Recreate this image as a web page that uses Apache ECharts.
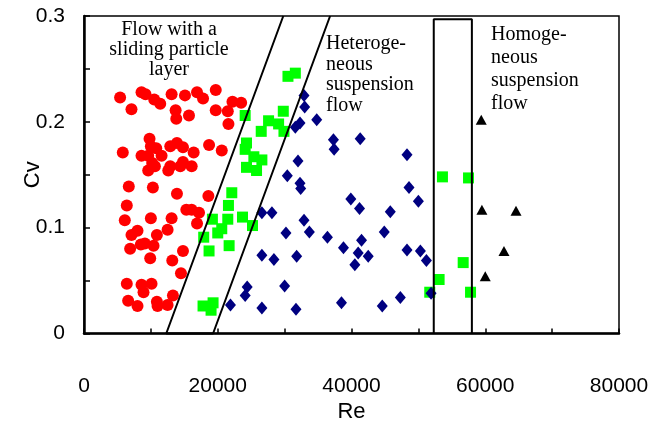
<!DOCTYPE html>
<html>
<head>
<meta charset="utf-8">
<script src="https://cdn.jsdelivr.net/npm/echarts@6/dist/echarts.min.js"></script>
<style>
  html, body { margin: 0; padding: 0; background: #fff; }
  #chart { width: 651px; height: 424px; }
</style>
</head>
<body>
<div id="chart"></div>
<script>
// Flow regime map: volumetric concentration Cv against Reynolds number Re.
const slidingLayer = [
  [5400,0.223],[7100,0.212],[8600,0.228],[9200,0.226],[10500,0.221],[11400,0.217],[13100,0.226],
  [13700,0.211],[13800,0.203],[15100,0.225],[15700,0.206],[16900,0.228],[17800,0.222],[19700,0.230],
  [19700,0.211],[21500,0.210],[21600,0.198],[22200,0.219],[23500,0.218],
  [5800,0.171],[9800,0.184],[10000,0.177],[10800,0.175],[8600,0.168],[9600,0.168],[11600,0.168],
  [12900,0.177],[13900,0.180],[14800,0.176],[16400,0.171],[18700,0.178],[20600,0.173],[10200,0.161],
  [10600,0.158],[12900,0.158],[14400,0.158],[16100,0.158],[14800,0.162],[9600,0.154],[12600,0.154],
  [6700,0.139],[10300,0.138],[13900,0.132],[18600,0.130],[6400,0.121],[10000,0.109],[6100,0.107],
  [13100,0.109],[15300,0.117],[16100,0.117],[17200,0.114],[16900,0.104],[12500,0.098],[8000,0.097],
  [7100,0.093],[10900,0.093],[8500,0.084],[9100,0.085],[10400,0.083],[6900,0.080],[14800,0.078],
  [9900,0.071],[13200,0.069],[14500,0.057],[6400,0.047],[8600,0.046],[8900,0.039],[10100,0.047],
  [13300,0.036],[6600,0.031],[8000,0.026],[10900,0.030],[11000,0.026],[12500,0.027]
];
const transitional = [
  [30500,0.243],[31600,0.246],[24100,0.206],[29800,0.210],[27600,0.201],[29100,0.198],[26500,0.191],
  [29900,0.191],[24300,0.180],[24100,0.174],[25400,0.167],[26600,0.164],[24300,0.157],[25800,0.154],
  [22100,0.133],[21600,0.121],[19200,0.108],[21500,0.108],[23700,0.110],[25200,0.102],[20000,0.095],
  [20600,0.099],[17900,0.091],[21700,0.083],[18700,0.078],[17800,0.026],[19300,0.029],[19000,0.022],
  [53600,0.148],[57500,0.147],[56700,0.067],[53100,0.051],[57800,0.039],[51700,0.039]
];
const heterogeneous = [
  [32900,0.225],[33000,0.214],[31600,0.195],[32300,0.199],[34800,0.202],[37300,0.183],[37400,0.174],
  [32000,0.163],[30400,0.149],[32300,0.142],[32400,0.137],[26600,0.114],[28100,0.114],[32900,0.107],
  [30200,0.095],[33700,0.096],[36400,0.091],[38800,0.081],[26600,0.074],[28400,0.070],[31800,0.073],
  [24400,0.044],[24100,0.036],[30000,0.045],[21900,0.027],[26600,0.024],[31700,0.023],[38500,0.029],
  [39900,0.127],[41300,0.184],[48300,0.169],[48600,0.138],[50000,0.125],[41200,0.118],[45800,0.115],
  [44900,0.096],[41500,0.088],[41000,0.076],[42500,0.073],[40500,0.065],[48300,0.079],[50300,0.078],
  [51200,0.069],[44600,0.026],[47300,0.034],[51900,0.038]
];
const homogeneous = [
  [59400,0.202],[59500,0.117],[64600,0.116],[62800,0.078],[60000,0.054]
];

// Regime boundaries: slanted band and the narrow transition box.
const slidingBand = [[29800,0.3],[12300,0],[19300,0],[36800,0.3]];
const transitionBox = [[52300,0],[52300,0.297],[58000,0.297],[58000,0]];

// Region captions, one entry per line.
const captionSliding = ['Flow with a', 'sliding particle', 'layer'];
const captionHetero = ['Heteroge-', 'neous', 'suspension', 'flow'];
const captionHomo = ['Homoge-', 'neous', 'suspension', 'flow'];

const tickFont = '"Liberation Sans", Arial, sans-serif';
const serif = '"Liberation Serif", "Times New Roman", serif';

const chart = echarts.init(document.getElementById('chart'), null, { renderer: 'canvas' });

function captionLines(lines, x, y0, step, align) {
  return lines.map((t, i) => ({
    type: 'text',
    x: x, y: y0 + i * step,
    z: 100,
    style: {
      text: t, fill: '#000', font: '20px ' + serif,
      align: align, verticalAlign: 'middle'
    }
  }));
}

const option = {
  animation: false,
  backgroundColor: '#fff',
  grid: {
    left: 84, right: 32, top: 16, bottom: 90.5,
    containLabel: false, outerBoundsMode: 'none',
    show: true, borderColor: '#000', borderWidth: 1.5
  },
  xAxis: {
    type: 'value', min: 0, max: 80000, interval: 20000,
    name: 'Re', nameLocation: 'middle', nameGap: 64,
    nameTextStyle: { fontFamily: tickFont, fontSize: 22, color: '#000' },
    axisLine: { show: true, lineStyle: { color: '#000', width: 2.5 } },
    axisTick: { show: true, inside: true, length: 5, lineStyle: { color: '#000', width: 1.5 } },
    minorTick: { show: true, splitNumber: 2, length: 5, lineStyle: { color: '#000', width: 1.5 } },
    splitLine: { show: false },
    axisLabel: { fontFamily: tickFont, fontSize: 21, color: '#000', margin: 42,
      formatter: v => String(v) }
  },
  yAxis: {
    type: 'value', min: 0, max: 0.3, interval: 0.1,
    name: 'Cv', nameLocation: 'middle', nameGap: 40, nameMoveOverlap: false,
    nameTextStyle: { fontFamily: tickFont, fontSize: 22, color: '#000' },
    axisLine: { show: true, lineStyle: { color: '#000', width: 2.5 } },
    axisTick: { show: true, inside: true, length: 6, lineStyle: { color: '#000', width: 1.5 } },
    minorTick: { show: true, splitNumber: 2, length: 6, lineStyle: { color: '#000', width: 1.5 } },
    splitLine: { show: false },
    axisLabel: { fontFamily: tickFont, fontSize: 21, color: '#000', margin: 19,
      formatter: v => String(+v.toFixed(2)) }
  },
  series: [
    { type: 'scatter', data: slidingLayer, symbol: 'circle', symbolSize: 12,
      itemStyle: { color: '#ff0000', opacity: 1 }, z: 2 },
    { type: 'scatter', data: transitional, symbol: 'rect', symbolSize: 11,
      itemStyle: { color: '#00ff00', opacity: 1 }, z: 3 },
    { type: 'scatter', data: heterogeneous, symbol: 'diamond', symbolSize: [11, 13],
      itemStyle: { color: '#000080', opacity: 1 }, z: 4 },
    { type: 'scatter', data: homogeneous, symbol: 'triangle', symbolSize: [11, 10],
      itemStyle: { color: '#000', opacity: 1 }, z: 5 },
    { type: 'line', data: slidingBand, showSymbol: false, symbol: 'none', clip: false,
      lineStyle: { color: '#000', width: 2 }, z: 6, silent: true },
    { type: 'line', data: transitionBox, showSymbol: false, symbol: 'none', clip: false,
      lineStyle: { color: '#000', width: 2 }, z: 6, silent: true }
  ],
  graphic: [].concat(
    captionLines(captionSliding, 169, 30, 20, 'center'),
    captionLines(captionHetero, 326, 44, 20.5, 'left'),
    captionLines(captionHomo, 491, 35, 23, 'left')
  )
};

chart.setOption(option);
</script>
</body>
</html>
